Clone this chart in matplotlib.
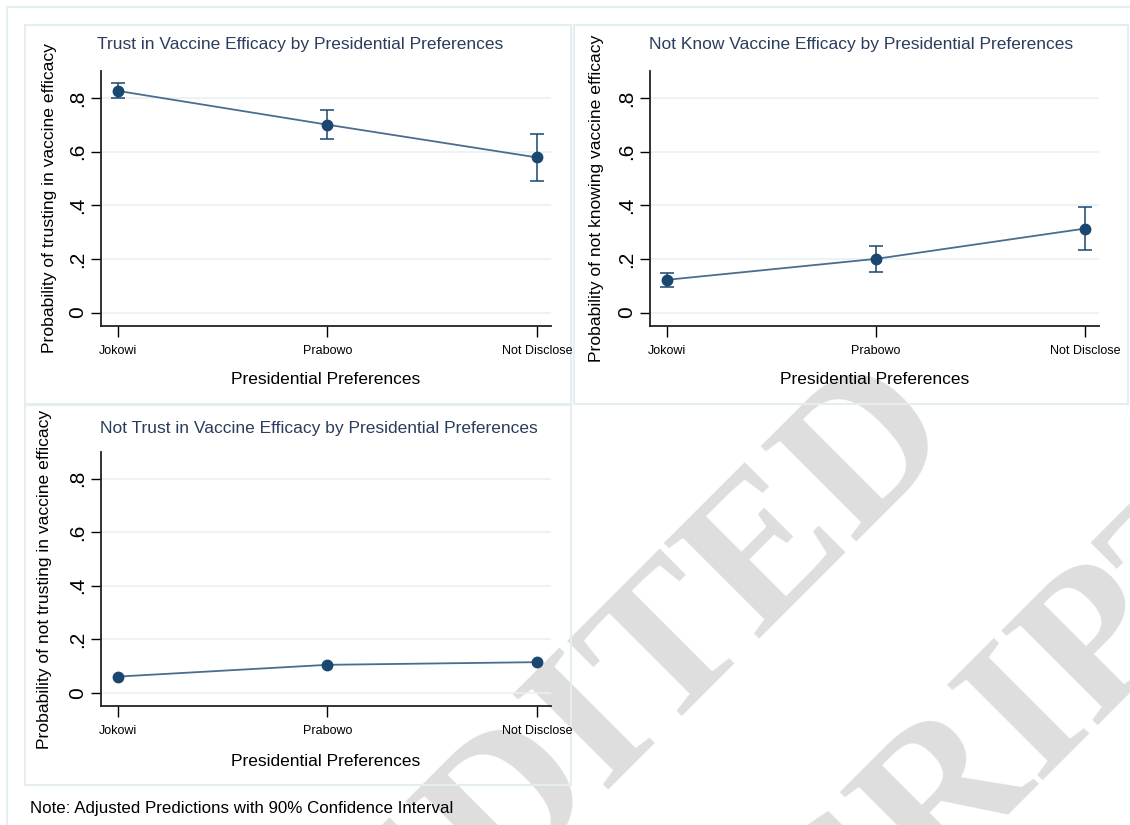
import matplotlib
matplotlib.use("Agg")
import matplotlib.pyplot as plt
from matplotlib.patches import Rectangle

plt.rcParams['font.family'] = ['Liberation Sans', 'DejaVu Sans']

# data (adjusted predictions, 90% CI)
groups = ['Jokowi', 'Prabowo', 'Not Disclose']

trust = [0.826, 0.700, 0.578]
trust_lo = [0.800, 0.645, 0.490]
trust_hi = [0.855, 0.755, 0.665]

notknow = [0.122, 0.200, 0.313]
notknow_lo = [0.095, 0.150, 0.235]
notknow_hi = [0.146, 0.248, 0.395]

nottrust = [0.060, 0.104, 0.114]
nottrust_lo = [0.053, 0.096, 0.106]
nottrust_hi = [0.067, 0.112, 0.122]

yticks = [0, 0.2, 0.4, 0.6, 0.8]
ytick_labels = ['0', '.2', '.4', '.6', '.8']

W, H = 1130, 825
navy = '#1a476f'
line_col = '#4a6d8e'
border = '#e4edf0'
grid_col = '#eaf1f3'
title_col = '#2b3d5c'

fig = plt.figure(figsize=(W / 100, H / 100), dpi=100)
fig.patch.set_facecolor('white')


def rect(l, t, r, b):
    return [l / W, 1 - b / H, (r - l) / W, (b - t) / H]


# watermark, drawn under everything else
for txt, cx, cy in [('UNEDITED', 575, 818), ('MANUSCRIPT', 788, 1032)]:
    fig.text(cx / W, 1 - cy / H, txt, rotation=45, rotation_mode='anchor',
             ha='center', va='baseline', fontsize=148, fontweight='bold',
             family='Liberation Serif', color='#dedede', zorder=0.1)

# outer frame and panel boxes
for (l, t, r, b) in [(7, 7, 1135, 830), (25, 25, 571, 404), (574, 25, 1128, 404), (25, 405, 571, 785)]:
    fig.patches.append(Rectangle((l / W, 1 - b / H), (r - l) / W, (b - t) / H,
                                 transform=fig.transFigure, fill=False,
                                 edgecolor=border, linewidth=1.5, zorder=0.5))


def panel(pos, y, lo, hi, title, title_x, title_y, ylab, ylab_x, xlab_y, cap=5):
    ax = fig.add_axes(rect(*pos))
    ax.set_facecolor('none')
    ax.set_zorder(1)
    x = list(range(len(groups)))
    ax.plot(x, y, color=line_col, linewidth=1.3, zorder=2)
    err = [[v - l for v, l in zip(y, lo)], [h - v for v, h in zip(y, hi)]]
    ax.errorbar(x, y, yerr=err, fmt='o', color=navy, markersize=7.5,
                capsize=cap, elinewidth=1.1, capthick=1.1, zorder=3)
    ax.set_xlim(-0.08, 2.067)
    ax.set_ylim(-0.05, 0.9)
    ax.set_yticks(yticks)
    ax.set_yticklabels(ytick_labels, rotation=90, va='center', fontsize=15)
    ax.set_xticks(x)
    ax.set_xticklabels(groups, fontsize=9)
    ax.tick_params(axis='y', length=7, width=1, pad=3)
    ax.tick_params(axis='x', length=8, width=1, pad=6)
    ax.grid(axis='y', color=grid_col, linewidth=1.2)
    ax.set_axisbelow(True)
    for s in ['top', 'right']:
        ax.spines[s].set_visible(False)
    for s in ['left', 'bottom']:
        ax.spines[s].set_linewidth(1.3)
        ax.spines[s].set_color('#222222')
    fig.text(title_x / W, 1 - title_y / H, title, ha='center', va='center',
             fontsize=12.5, color=title_col)
    fig.text(ylab_x / W, 1 - (pos[1] + pos[3]) / 2 / H, ylab, rotation=90,
             ha='center', va='center', fontsize=12.6)
    fig.text((pos[0] + pos[2]) / 2 / W, 1 - xlab_y / H, 'Presidential Preferences',
             ha='center', va='center', fontsize=12.5)
    return ax


panel((101, 71, 551, 326), trust, trust_lo, trust_hi,
      'Trust in Vaccine Efficacy by Presidential Preferences', 300, 44,
      'Probability of trusting in vaccine efficacy', 50, 379)
panel((650, 71, 1099, 326), notknow, notknow_lo, notknow_hi,
      'Not Know Vaccine Efficacy by Presidential Preferences', 861, 45,
      'Probability of not knowing vaccine efficacy', 597, 379)
panel((101, 452, 551, 706), nottrust, nottrust_lo, nottrust_hi,
      'Not Trust in Vaccine Efficacy by Presidential Preferences', 319, 428,
      'Probability of not trusting in vaccine efficacy', 45, 761, cap=0)

fig.text(30 / W, 1 - 808 / H, 'Note: Adjusted Predictions with 90% Confidence Interval',
         ha='left', va='center', fontsize=12.2)

fig.savefig('out.png', dpi=100)
